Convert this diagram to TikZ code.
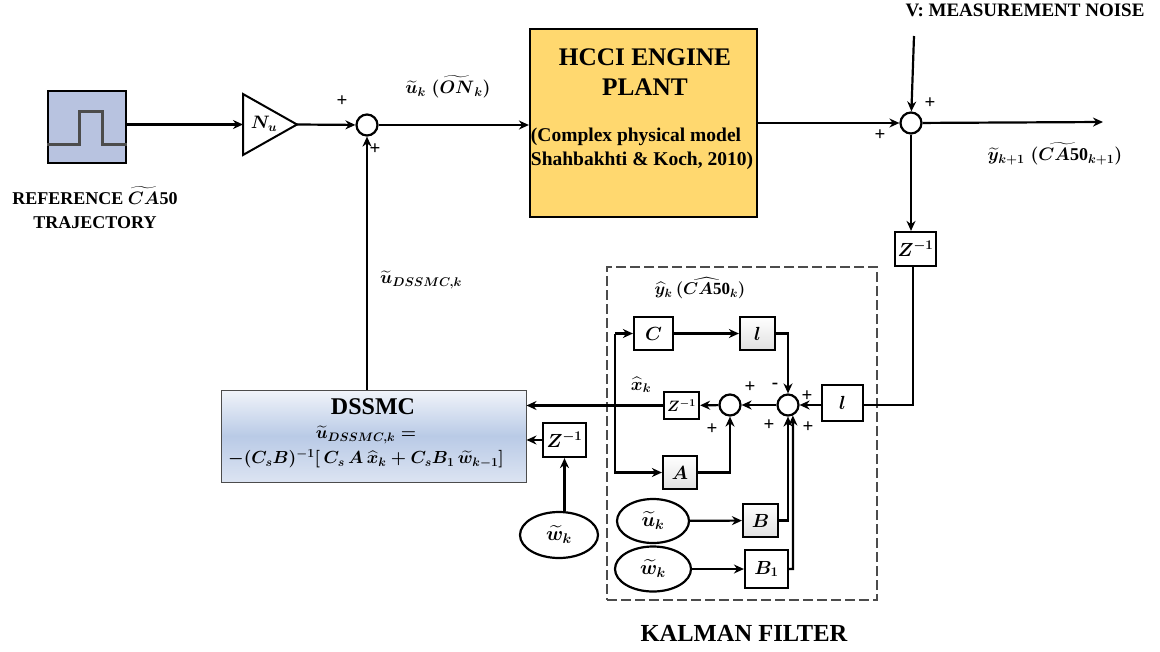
\documentclass[tikz,border=0pt]{standalone}
\usepackage{fix-cm}
\usepackage{amsmath}
\usepackage{fontspec}
\setmainfont{Liberation Serif}
\usepackage{xcolor}
\usetikzlibrary{arrows.meta, shapes.geometric}
\definecolor{sourceblue}{HTML}{B8C3E0}
\definecolor{plantyellow}{HTML}{FFD86F}
\definecolor{dssmcblue}{HTML}{B9CAE6}
\definecolor{dssmclight}{HTML}{DCE4F2}
\newcommand{\txt}[1]{\fontsize{#1}{#1}\selectfont\bfseries\boldmath}
\newcommand{\fifty}{\text{\bfseries 50}}

\begin{document}
\begin{tikzpicture}[x=1pt, y=-1pt, >={Stealth[length=10pt, width=9pt]},
        wire/.style={line width=2.2pt},
        blockbox/.style={draw, line width=2.2pt, fill=white, inner sep=0pt, font=\txt{19}},
        shadedbox/.style={blockbox, top color=white, bottom color=black!12},
        sumnode/.style={draw, circle, line width=2.2pt, fill=white, inner sep=0pt, minimum size=21},
        inputnode/.style={draw, ellipse, line width=2.2pt, fill=white, inner sep=0pt, font=\txt{20}},
        sign/.style={font=\txt{19}, inner sep=0pt},
        label/.style={font=\txt{17}, inner sep=0pt, align=center}]
        \useasboundingbox (0, 0) rectangle (1160, 651);
        % Kalman frame
        \node [draw=black!70, line width=1.4pt, dash pattern=on 10pt off 4pt, minimum width=270, minimum height=333, inner sep=0pt] (kalman) at (742, 433.5) {};
        % Blocks
        \node [draw, line width=2.2pt, fill=sourceblue, minimum width=78, minimum height=72, inner sep=0pt] (source) at (87, 127) {};
        \node [draw, line width=2.2pt, fill=plantyellow, minimum width=227, minimum height=188, inner sep=0pt] (plant) at (643.5, 123) {};
        \node [blockbox, minimum width=41, minimum height=34] (zy) at (915.5, 249) {$Z^{-1}$};
        \node [blockbox, minimum width=39, minimum height=33] (c) at (653.5, 333.5) {$C$};
        \node [shadedbox, minimum width=35, minimum height=33] (lone) at (757.5, 333.5) {$l$};
        \node [blockbox, minimum width=41, minimum height=36] (ltwo) at (842.5, 403) {$l$};
        \node [blockbox, minimum width=35, minimum height=27, font=\txt{15}] (zx) at (681.5, 405.5) {$Z^{-1}$};
        \node [shadedbox, minimum width=34, minimum height=33] (a) at (680, 472.5) {$A$};
        \node [shadedbox, minimum width=35, minimum height=33] (b) at (760.5, 520.5) {$B$};
        \node [blockbox, minimum width=43, minimum height=38] (bone) at (766.5, 569) {$B_1$};
        \node [blockbox, minimum width=43, minimum height=34] (zw) at (564.5, 440) {$Z^{-1}$};
        \node [draw=black!70, line width=1pt, top color=dssmclight!40, bottom color=dssmclight, middle color=dssmcblue, minimum width=305, minimum height=92, inner sep=0pt] (dssmc) at (373.5, 436) {};
        % Summing points and inputs
        \node [sumnode] (sumu) at (367, 125) {};
        \node [sumnode] (sumy) at (911, 123) {};
        \node [sumnode] (sumk) at (788, 405) {};
        \node [sumnode] (sumx) at (730, 405) {};
        \node [inputnode, minimum width=72, minimum height=44] (uin) at (653, 521) {$\widetilde{u}_k$};
        \node [inputnode, minimum width=76, minimum height=45] (win) at (653, 569) {$\widetilde{w}_k$};
        \node [inputnode, minimum width=78, minimum height=46] (wout) at (559, 535) {$\widetilde{w}_k$};
        % Gain
        \coordinate (gainin) at (243, 124.5);
        \coordinate (gainout) at (297, 124.5);
        \draw [line width=2pt, fill=white] (243, 94) -- (gainout) -- (243, 155) -- cycle;
        \node [label, font=\txt{18}] (gain) at (264, 124) {$N_u$};
        % Pulse
        \draw [line width=3pt, black!70] (source.west |- 0, 144) -- (79, 144) -- (79, 111) -- (102, 111) -- (102, 144) -- (source.east |- 0, 144);
        % Wires
        \coordinate (noise) at (914, 36);
        \coordinate (output) at (1103, 122);
        \coordinate (corner) at (913, 405);
        \coordinate (split) at (615, 405);
        \draw [wire, ->] (source.east |- gainin) -- (gainin);
        \draw [wire, ->] (gainout) -- (sumu);
        \draw [wire, ->] (sumu) -- (plant.west |- sumu);
        \draw [wire, ->] (plant.east |- sumy) -- (sumy);
        \draw [wire, ->] (noise) -- (sumy);
        \draw [wire, ->] (sumy) -- (output);
        \draw [wire, ->] (sumy) -- (sumy |- zy.north);
        \draw [wire] (zy.south -| corner) -- (corner) -- (ltwo.east |- corner);
        \draw [wire, ->] (ltwo.west |- sumk) -- (sumk);
        \draw [wire, ->] (sumk) -- (sumx);
        \draw [wire, ->] (sumx) -- (zx);
        \draw [wire, ->] (zx) -- (dssmc.east |- zx);
        \draw [wire, ->] (dssmc.north -| sumu) -- (sumu);
        \draw [wire, ->] (zw.west) -- (dssmc.east |- zw);
        \draw [wire, ->] (wout.north -| zw) -- (zw);
        \draw [wire, ->] (split |- c) -- (c);
        \draw [wire, ->] (split |- c) -- (split |- a) -- (a);
        \draw [wire, ->] (c) -- (lone);
        \draw [wire, ->] (lone.east) -- (sumk |- lone) -- (sumk);
        \draw [wire, ->] (a.east) -- (sumx |- a) -- (sumx);
        \draw [wire, ->] (uin) -- (b);
        \draw [wire, ->] (win) -- (bone);
        \draw [wire, ->] (b.east) -- (sumk |- b) -- (sumk);
        \draw [wire, ->] (bone.east) -- (793, 569) -- (sumk.-65);
        % Block texts
        \node [label, font=\txt{25.3}] (plantname) at (645, 72) {HCCI ENGINE\\[5pt] PLANT};
        \node [label, font=\txt{19.5}, align=left] (plantnote) at (642, 149) {(Complex physical model\\[5pt] Shahbakhti \& Koch, 2010)};
        \node [label, font=\txt{24}] (dssmcname) at (373, 407) {DSSMC};
        \node [label, font=\txt{17.5}] (dssmceq) at (366, 447) {$\widetilde{u}_{DSSMC,k}=$\\[5pt] $-(C_sB)^{-1}[\,C_s\,A\,\widehat{x}_k+C_sB_1\,\widetilde{w}_{k-1}]$};
        % Labels
        \node [label, font=\txt{18}] (reflabel) at (95, 208) {REFERENCE $\widetilde{CA}\fifty$\\[6pt] TRAJECTORY};
        \node [label, font=\txt{19}] (noiselabel) at (1025, 10) {V: MEASUREMENT NOISE};
        \node [label, font=\txt{24.5}] (kalmanlabel) at (744, 633) {KALMAN FILTER};
        \node [label, font=\txt{18}] (ulabel) at (448, 87) {$\widetilde{u}_k\;(\widetilde{ON}_k)$};
        \node [label, font=\txt{18}] (ylabel) at (1055, 154) {$\widetilde{y}_{k+1}\;(\widetilde{CA\fifty}_{k+1})$};
        \node [label, font=\txt{17}] (yhatlabel) at (700, 288) {$\widehat{y}_k\,(\widehat{CA\fifty}_k)$};
        \node [label, font=\txt{18}] (xhatlabel) at (641, 385) {$\widehat{x}_k$};
        \node [label, font=\txt{18}] (udlabel) at (421, 280) {$\widetilde{u}_{DSSMC,k}$};
        % Signs
        \node [sign] (p1) at (342, 101) {+};
        \node [sign] (p2) at (375, 149) {+};
        \node [sign] (p3) at (930, 103) {+};
        \node [sign] (p4) at (880, 135) {+};
        \node [sign] (p5) at (750, 387) {+};
        \node [sign] (m1) at (775, 386) {-};
        \node [sign] (p6) at (807, 396) {+};
        \node [sign] (p7) at (769, 425) {+};
        \node [sign] (p8) at (808, 427) {+};
        \node [sign] (p9) at (712, 429) {+};
    \end{tikzpicture}
\end{document}
